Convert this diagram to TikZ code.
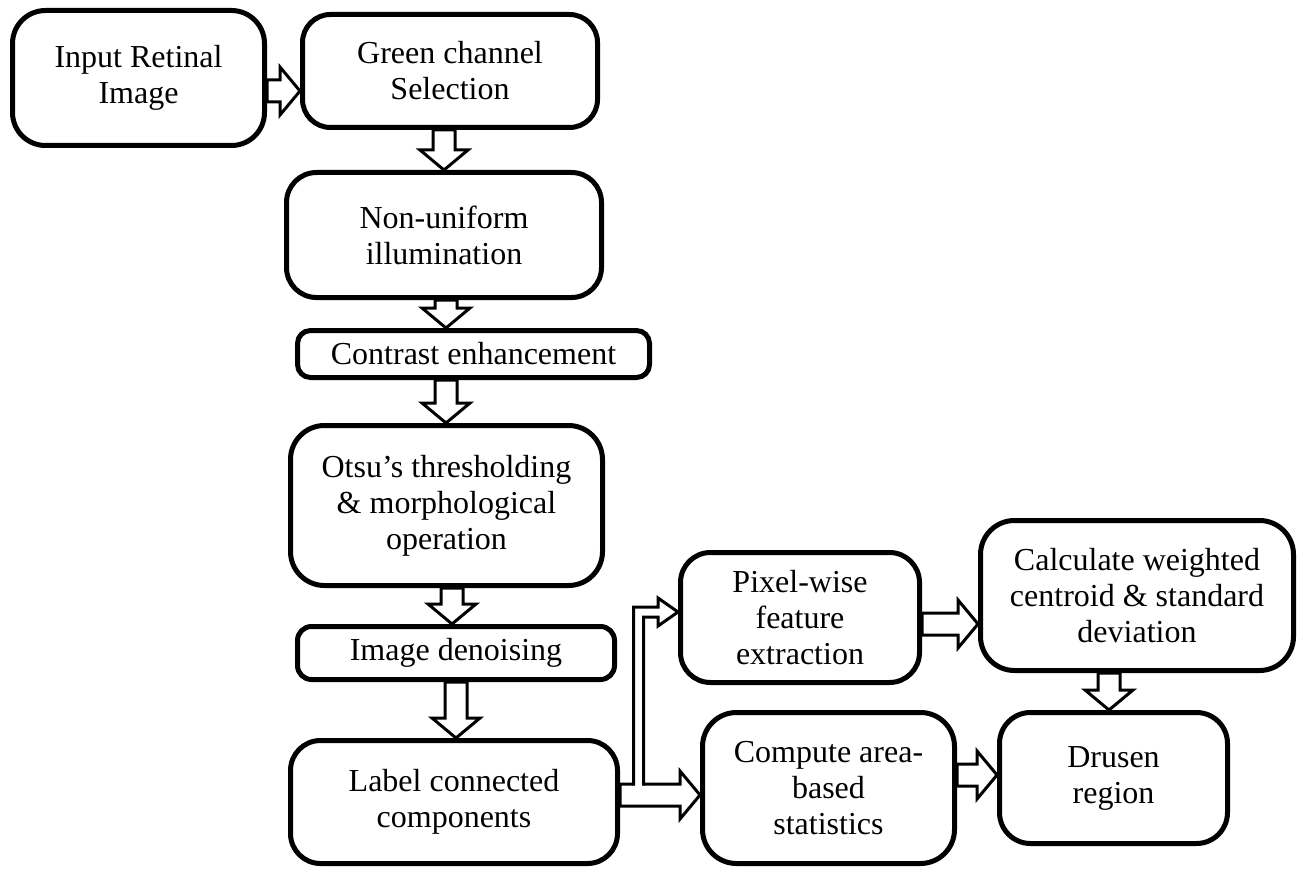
\documentclass[tikz,border=0pt]{standalone}
\usepackage{fontspec}
\setmainfont{Liberation Serif}
\usetikzlibrary{calc}
\tikzset{
  box/.style={draw, line width=5pt, rounded corners=#1, align=center, inner sep=0pt, font=\fontsize{32}{36}\selectfont},
  box/.default=30pt,
  barrow/.style={draw, fill=white, line width=3pt, line join=miter},
  pipe/.style={draw, line width=3pt, line join=miter},
}
\newcommand{\hblock}[2]{\path[barrow] let \p1=(#1),\p2=(#2) in (\x1,\y1+11pt) -- (\x2-20pt,\y1+11pt) -- (\x2-20pt,\y1+24pt) -- (\x2,\y1) -- (\x2-20pt,\y1-24pt) -- (\x2-20pt,\y1-11pt) -- (\x1,\y1-11pt) -- cycle;}
\newcommand{\vblock}[2]{\path[barrow] let \p1=(#1),\p2=(#2) in (\x1-11pt,\y1) -- (\x1-11pt,\y2+20pt) -- (\x1-24pt,\y2+20pt) -- (\x1,\y2) -- (\x1+24pt,\y2+20pt) -- (\x1+11pt,\y2+20pt) -- (\x1+11pt,\y1) -- cycle;}
\begin{document}
\begin{tikzpicture}[x=1pt,y=-1pt]
\useasboundingbox (0,0) rectangle (1304,869);
\node[box=33pt, minimum width=252pt, minimum height=135pt] (A) at (138.5,78) {Input Retinal\\Image};
\node[box=28pt, minimum width=295pt, minimum height=113pt] (B) at (450,71) {Green channel\\Selection};
\node[box=30pt, minimum width=315pt, minimum height=125pt] (C) at (444,235) {Non-uniform\\illumination};
\node[box=13pt, minimum width=352pt, minimum height=47pt] (D) at (473.5,354) {Contrast enhancement};
\node[box=34pt, minimum width=312pt, minimum height=160pt] (E) at (446.5,505.5) {Otsu’s thresholding\\\& morphological\\operation};
\node[box=14pt, minimum width=317pt, minimum height=53pt] (F) at (456,653) {Image denoising};
\node[box=30pt, minimum width=327pt, minimum height=123pt] (G) at (454,802) {Label connected\\components};
\node[box=30pt, minimum width=239pt, minimum height=130pt] (H) at (800,617.5) {Pixel-wise\\feature\\extraction};
\node[box=34pt, minimum width=313pt, minimum height=150pt] (I) at (1137,595.5) {Calculate weighted\\centroid \& standard\\deviation};
\node[box=34pt, minimum width=252pt, minimum height=151pt] (J) at (828.5,788) {Compute area-\\based\\statistics};
\node[box=31pt, minimum width=228pt, minimum height=131pt] (K) at (1113.5,778) {Drusen\\region};
% arrows
\hblock{A.east |- 0,91}{B.west |- 0,91}
\vblock{B.south -| 444,0}{C.north -| 444,0}
\vblock{C.south -| 446,0}{D.north -| 446,0}
\vblock{D.south -| 446,0}{E.north -| 446,0}
\vblock{E.south -| 452,0}{F.north -| 452,0}
\vblock{F.south -| 456,0}{G.north -| 456,0}
\hblock{G.east |- 0,795}{J.west |- 0,795}
\hblock{H.east |- 0,624}{I.west |- 0,624}
\hblock{J.east |- 0,775}{K.west |- 0,775}
\vblock{I.south -| 1109,0}{K.north -| 1109,0}
% bent pipe
\fill[white] (633.5,786) -- (633.5,607) -- (658,607) -- (658,598) -- (H.west |- 0,612) -- (658,626) -- (658,617) -- (643.5,617) -- (643.5,786) -- cycle;
\draw[pipe] (633.5,785.5) -- (633.5,607) -- (658,607) -- (658,598) -- (H.west |- 0,612) -- (658,626) -- (658,617) -- (643.5,617) -- (643.5,785.5);
\end{tikzpicture}
\end{document}
